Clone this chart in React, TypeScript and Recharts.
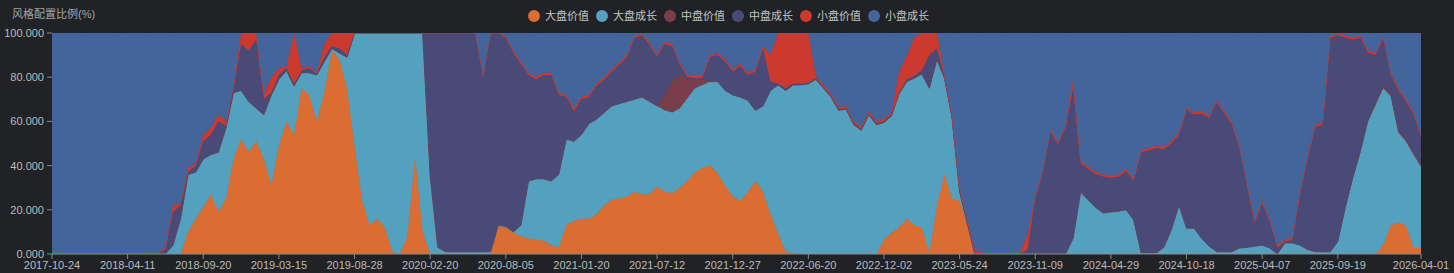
import React from 'react';
import { AreaChart, Area, XAxis, YAxis, Legend } from 'recharts';

const BG = '#202225';
if (typeof document !== 'undefined') {
  document.body.style.margin = '0';
  document.body.style.background = BG;
}

const seriesNames = ['大盘价值', '大盘成长', '中盘价值', '中盘成长', '小盘价值', '小盘成长'];
const seriesKeys = ['dpjz', 'dpcz', 'zpjz', 'zpcz', 'xpjz', 'xpcz'];
const seriesColors = ['#dc6d32', '#53a1be', '#7a3e4a', '#4a4a79', '#cc3a2f', '#44659b'];

const tickLabels = [
  '2017-10-24', '2018-04-11', '2018-09-20', '2019-03-15', '2019-08-28', '2020-02-20',
  '2020-08-05', '2021-01-20', '2021-07-12', '2021-12-27', '2022-06-20', '2022-12-02',
  '2023-05-24', '2023-11-09', '2024-04-29', '2024-10-18', '2025-04-07', '2025-09-19', '2026-04-01',
];
const tickIndex = [0, 10, 20, 30, 40, 50, 60, 70, 80, 90, 100, 110, 120, 130, 140, 150, 160, 170, 181];
const yTicks = [0, 20, 40, 60, 80, 100];

// 大盘价值
const dpjz = [
  0, 0, 0, 0, 0, 0, 0, 0, 0, 0,
  0, 0, 0, 0, 0, 0, 0, 0, 10, 16,
  21, 27, 19, 25, 43, 52, 46, 51, 43, 31,
  49, 60, 54, 75, 72, 60, 73, 92, 88, 75,
  49, 24, 13, 16, 12, 1, 0, 8, 44, 10,
  0, 0, 0, 0, 0, 0, 0, 0, 0, 12.5,
  12, 9.5, 8, 7, 6.5, 6, 4, 3, 13, 15,
  16, 16, 18, 22, 24.5, 25, 26, 28, 27, 27,
  30.5, 28, 27.5, 30, 33, 37, 39, 40, 36.5, 31,
  26, 24, 28, 33, 28, 18, 9, 1, 0.5, 0,
  0, 0, 0, 0, 0, 0, 0, 0, 0, 0,
  6.5, 9.5, 12, 16, 13, 12, 0.5, 22, 36, 25,
  24, 13, 0, 0, 0, 0, 0, 0, 0, 0,
  0, 0, 0, 0, 0, 0, 0, 0, 0, 0,
  0, 0, 0, 0, 0, 0, 0, 0, 0, 0,
  0, 0, 0, 0, 0, 0, 0, 0, 0, 0,
  0, 0, 0, 0, 0, 0, 0, 0, 0, 0,
  0, 0, 0, 0, 0, 0, 4, 13, 14, 13,
  2.7, 2.7,
];

// 大盘成长
const dpcz = [
  0, 0, 0, 0, 0, 0, 0, 0, 0, 0,
  0, 0, 0, 0, 0, 0, 4, 16, 26, 21,
  22, 18, 27, 32, 30, 22, 23, 15, 20, 41,
  30, 23, 22, 7, 10, 21, 14, 1, 3, 14,
  51, 76, 87, 84, 88, 99, 100, 92, 56, 90,
  35, 3, 1, 1, 1, 1, 1, 1, 1, 0.5,
  0.5, 0.5, 5, 26, 27.5, 28, 29, 33, 39, 36,
  38, 43, 43, 42, 42.5, 43, 43, 42, 44, 42,
  36.5, 37, 36.5, 36, 37.5, 38, 37.5, 38, 41.5, 43,
  46, 47, 41.5, 32, 39, 56, 67.5, 73, 76, 76.5,
  77, 79, 75, 71, 65, 65.5, 58.5, 56, 63, 58.5,
  53, 53, 60.5, 62, 66.5, 69.5, 74.5, 66, 43.5, 36.5,
  4, 1, 0, 0, 0, 0, 0, 0, 0, 0,
  0, 0, 0, 0, 0, 7, 28, 24.5, 21, 18.5,
  19, 19.3, 20, 15.5, 0.5, 0.5, 0.5, 3, 11, 22,
  11.7, 11.7, 7, 3.5, 1, 1, 1, 2.7, 3, 3.5,
  4, 2.7, 0, 5, 5, 4, 2, 1, 1, 1,
  5.7, 21, 34, 46, 60, 67.5, 71, 58.5, 41, 38,
  42.3, 36.8,
];

// 中盘价值
const zpjz = [
  0, 0, 0, 0, 0, 0, 0, 0, 0, 0,
  0, 0, 0, 0, 0, 0, 0, 0, 0, 0,
  0, 0, 0, 0, 0, 0, 0, 0, 0, 0,
  0, 0, 0, 0, 0, 0, 0, 0, 0, 0,
  0, 0, 0, 0, 0, 0, 0, 0, 0, 0,
  0, 0, 0, 0, 0, 0, 0, 0, 0, 0,
  0, 0, 0, 0, 0, 0, 0, 0, 0, 0,
  0, 0, 0, 0, 0, 0, 0, 0, 0, 0,
  0, 7, 14, 15, 9, 4, 2.5, 0, 0, 0,
  0, 0, 0, 0, 0, 0, 0, 0, 0, 0,
  0, 0, 0, 0, 0, 0, 0, 0, 0, 0,
  0, 0, 0, 0, 0, 0, 0, 0, 0, 0,
  0, 0, 0, 0, 0, 0, 0, 0, 0, 0,
  0, 0, 0, 0, 0, 0, 0, 0, 0, 0,
  0, 0, 0, 0, 0, 0, 0, 0, 0, 0,
  0, 0, 0, 0, 0, 0, 0, 0, 0, 0,
  0, 0, 0, 0, 0, 0, 0, 0, 0, 0,
  0, 0, 1, 1, 1, 1, 1, 1, 1, 1,
  1, 1,
];

// 中盘成长
const zpcz = [
  0, 0, 0, 0, 0, 0, 0, 0, 0, 0,
  0, 0, 0, 0, 0, 2, 15, 6, 1, 3,
  8, 9, 14, 1, 2, 21, 23, 31, 7, 1,
  2, 1, 1, 1, 2, 0.5, 2, 1, 2, 1,
  0, 0, 0, 0, 0, 0, 0, 0, 0, 0,
  65, 97, 99, 99, 99, 99, 99, 79, 99, 87,
  85.1, 81, 73, 48, 45, 47, 48, 36, 19, 13.5,
  16, 12, 15, 15, 15.5, 17.5, 20, 27.6, 28, 25.5,
  22, 23, 16, 4.5, 0.5, 0.5, 0.5, 11, 12, 13,
  10.5, 14, 11.5, 17.5, 26, 4, 0.5, 1, 0.5, 0.5,
  0.5, 0.5, 0.5, 0.5, 0.5, 0.5, 0.5, 0.5, 0.5, 0.5,
  0.5, 0.5, 0.5, 1, 1, 1.5, 15, 5, 0.5, 0.5,
  1, 1, 0.5, 0, 0, 0, 0, 0, 0, 2,
  25, 37, 55, 49.5, 57, 68, 13, 14, 15, 16.5,
  15.5, 15.7, 17.5, 17.5, 45.5, 46.5, 47.5, 44.5, 39, 32,
  53.3, 51.3, 56.5, 58, 67.5, 62.5, 57.5, 45.3, 28, 10.5,
  19, 12, 2.7, 0.5, 1.5, 23, 41, 56.5, 57.5, 96.5,
  93.3, 77, 62, 51, 30, 21.5, 21.6, 8.5, 18, 17,
  17, 12.5,
];

// 小盘价值
const xpjz = [
  0.5, 0.5, 0.5, 0.5, 0.5, 0.5, 0.5, 0.5, 0.5, 0.5,
  0.5, 0.5, 0.5, 0.5, 0.5, 1, 3, 1, 2, 1,
  3, 3, 3, 2, 1, 5, 8, 3, 2, 7,
  3, 1, 23, 1, 1, 0.5, 6, 6, 7, 10,
  0, 0, 0, 0, 0, 0, 0, 0, 0, 0,
  0, 0, 0, 0, 0, 0, 0, 1, 0, 0,
  0.9, 1, 1, 1, 1, 1, 1, 1, 1, 1.5,
  1, 1, 1, 1, 1, 1, 1, 0.9, 0.5, 1,
  1, 1, 1, 1, 1, 1.5, 1.5, 1, 1, 1,
  1, 1, 1, 1, 1, 12, 23, 25, 23, 23,
  22.5, 1, 1, 1, 1, 1, 1, 1, 1, 1,
  1, 1, 9.5, 10.5, 17.5, 17, 10, 7, 1, 1,
  1, 1, 1, 0.5, 0.5, 0.5, 0.5, 0.5, 0.5, 7,
  1, 1, 1, 1, 1, 4, 1, 1, 1, 1,
  1, 1, 1, 1, 1, 1, 1, 1, 1, 1,
  1, 1, 1, 1, 1, 1, 1, 1, 1, 1,
  1, 1, 1, 1, 1, 1, 1, 1, 1, 1,
  0.5, 1, 1, 1, 1, 1, 0.9, 1, 1, 1,
  1, 1,
];

// 小盘成长
const xpcz = [
  99.5, 99.5, 99.5, 99.5, 99.5, 99.5, 99.5, 99.5, 99.5, 99.5,
  99.5, 99.5, 99.5, 99.5, 99.5, 97, 78, 77, 61, 59,
  46, 43, 37, 40, 24, 0, 0, 0, 28, 20,
  16, 15, 0, 16, 15, 18, 5, 0, 0, 0,
  0, 0, 0, 0, 0, 0, 0, 0, 0, 0,
  0, 0, 0, 0, 0, 0, 0, 19, 0, 0,
  1.5, 8, 13, 18, 20, 18, 18, 27, 28, 34,
  29, 28, 23, 20, 16.5, 13.5, 10, 1.5, 0.5, 4.5,
  10, 4, 5, 13.5, 19, 19, 19, 10, 9, 12,
  16.5, 14, 18, 16.5, 6, 10, 0, 0, 0, 0,
  0, 19.5, 23.5, 27.5, 33.5, 33, 40, 42.5, 35.5, 40,
  39, 36, 17.5, 10.5, 2, 0, 0, 0, 19, 37,
  70, 84, 98.5, 99.5, 99.5, 99.5, 99.5, 99.5, 99.5, 91,
  74, 62, 44, 49.5, 42, 21, 58, 60.5, 63, 64,
  64.5, 64, 61.5, 66, 53, 52, 51, 51.5, 49, 45,
  34, 36, 35.5, 37.5, 30.5, 35.5, 40.5, 51, 68, 85,
  76, 84.3, 96.3, 93.5, 92.5, 72, 56, 41.5, 40.5, 1.5,
  0.5, 1, 2, 1, 8, 9, 1.5, 18, 25, 30,
  36, 46,
];

const seriesValues = [dpjz, dpcz, zpjz, zpcz, xpjz, xpcz];

const data = dpjz.map((_, i) => {
  const row: Record<string, number> = { t: i };
  seriesKeys.forEach((k, s) => {
    row[k] = seriesValues[s][i];
  });
  return row;
});

const FONT = '"Liberation Sans", "Noto Sans CJK SC", sans-serif';
const TICK_COLOR = '#bcbcbc';
const AXIS_COLOR = '#8a8a8a';

const YTitle = () => (
  <text x={12} y={18} fill="#a6a6a6" fontSize={11} textAnchor="start">
    风格配置比例(%)
  </text>
);

const XTick = (props: any) => {
  const { x, y, payload } = props;
  const idx = tickIndex.indexOf(payload.value);
  return (
    <text x={x} y={y} dy={8.2} textAnchor="middle" fill={TICK_COLOR} fontSize={11}>
      {idx >= 0 ? tickLabels[idx] : ''}
    </text>
  );
};

const LegendRow = () => (
  <div style={{ display: 'flex', alignItems: 'center', gap: 7, fontFamily: FONT }}>
    {seriesNames.map((name, i) => (
      <div key={name} style={{ display: 'flex', alignItems: 'center' }}>
        <span
          style={{
            display: 'inline-block',
            width: 12,
            height: 12,
            borderRadius: 6,
            background: seriesColors[i],
            marginRight: 5,
          }}
        />
        <span style={{ color: '#c4c4c4', fontSize: 11, lineHeight: '14px' }}>{name}</span>
      </div>
    ))}
  </div>
);

export default function App() {
  return (
    <div style={{ width: 1454, height: 273, background: BG, fontFamily: FONT }}>
      <AreaChart
        width={1454}
        height={273}
        data={data}
        margin={{ top: 33, right: 33, bottom: 0, left: 0 }}
      >
        <XAxis
          dataKey="t"
          type="number"
          domain={[0, 181]}
          ticks={tickIndex}
          interval={0}
          height={19}
          tickSize={5}
          tickMargin={2}
          tick={<XTick />}
          tickLine={{ stroke: AXIS_COLOR }}
          axisLine={{ stroke: AXIS_COLOR }}
        />
        <YAxis
          type="number"
          domain={[0, 100]}
          ticks={yTicks}
          allowDataOverflow
          width={52}
          tickSize={5}
          tickMargin={3}
          tickFormatter={(v: number) => v.toFixed(3)}
          tick={{ fill: TICK_COLOR, fontSize: 11 }}
          tickLine={{ stroke: AXIS_COLOR }}
          axisLine={false}
          label={<YTitle />}
        />
        <Legend
          layout="vertical"
          align="center"
          verticalAlign="middle"
          wrapperStyle={{ top: 9, left: 528, width: 430 }}
          content={() => <LegendRow />}
        />
        {seriesKeys.map((k, i) => (
          <Area
            key={k}
            type="linear"
            dataKey={k}
            name={seriesNames[i]}
            stackId="style"
            stroke={seriesColors[i]}
            strokeWidth={1}
            fill={seriesColors[i]}
            fillOpacity={1}
            dot={false}
            activeDot={false}
            isAnimationActive={false}
          />
        ))}
      </AreaChart>
    </div>
  );
}
